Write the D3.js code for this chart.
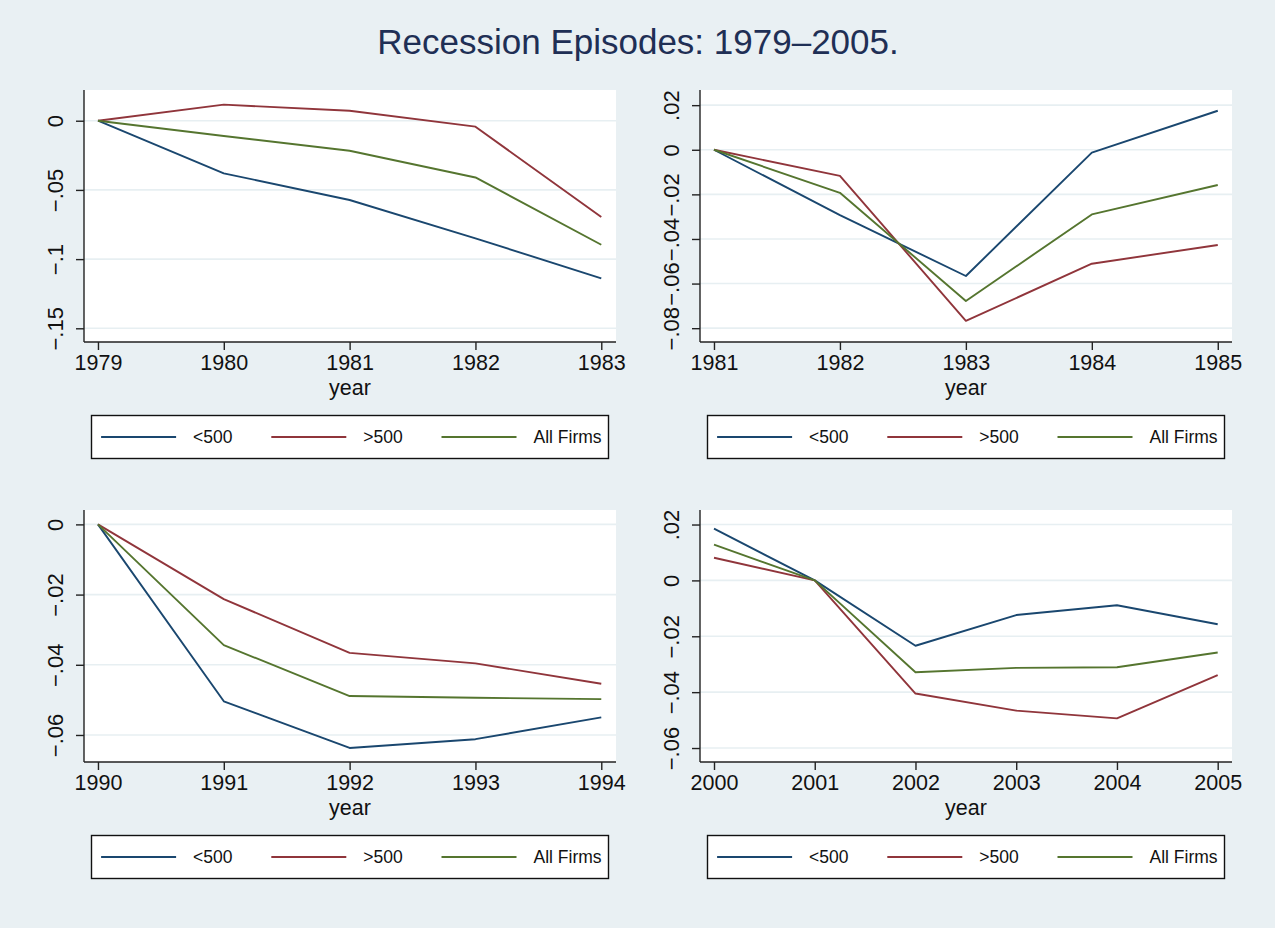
<!DOCTYPE html>
<html>
<head>
<meta charset="utf-8">
<script src="https://cdn.jsdelivr.net/npm/d3@7"></script>
<style>
  html, body { margin: 0; padding: 0; background: #e9f0f3; }
  svg { display: block; font-family: "Liberation Sans", Arial, Helvetica, sans-serif; }
</style>
</head>
<body>
<svg id="chart" width="1275" height="928"></svg>
<script>
// Employment change by firm size across four recession episodes
const seriesNames = ["<500", ">500", "All Firms"];
const seriesColors = ["#1a476f", "#90353b", "#55752f"];

// 1979-1983
const years1 = [1979, 1980, 1981, 1982, 1983];
const small1 = [0, -0.038, -0.0573, -0.085, -0.1139];
const large1 = [0, 0.0116, 0.0072, -0.0043, -0.0696];
const all1   = [0, -0.011, -0.0217, -0.041, -0.0896];
const yTicks1 = [0, -0.05, -0.1, -0.15];

// 1981-1985
const years2 = [1981, 1982, 1983, 1984, 1985];
const small2 = [0, -0.0293, -0.0566, -0.0013, 0.0175];
const large2 = [0, -0.0117, -0.0767, -0.0511, -0.0427];
const all2   = [0, -0.0193, -0.0678, -0.029, -0.0158];
const yTicks2 = [-0.08, -0.06, -0.04, -0.02, 0, 0.02];

// 1990-1994
const years3 = [1990, 1991, 1992, 1993, 1994];
const small3 = [0, -0.0504, -0.0637, -0.0612, -0.055];
const large3 = [0, -0.0213, -0.0366, -0.0396, -0.0454];
const all3   = [0, -0.0344, -0.0489, -0.0494, -0.0498];
const yTicks3 = [0, -0.02, -0.04, -0.06];

// 2000-2005
const years4 = [2000, 2001, 2002, 2003, 2004, 2005];
const small4 = [0.0185, 0, -0.0234, -0.0124, -0.0089, -0.0157];
const large4 = [0.0081, 0, -0.0405, -0.0466, -0.0494, -0.0339];
const all4   = [0.0128, 0, -0.0329, -0.0313, -0.0311, -0.0258];
const yTicks4 = [-0.06, -0.04, -0.02, 0, 0.02];

const titleText = "Recession Episodes: 1979\u20132005.";
const xTitle = "year";

const panels = [
  { years: years1, series: [small1, large1, all1], yTicks: yTicks1,
    x0: 84, y0: 90, xDom: [1978.889, 1983.117], yDom: [-0.1599, 0.0222] },
  { years: years2, series: [small2, large2, all2], yTicks: yTicks2,
    x0: 700, y0: 90, xDom: [1980.889, 1985.113], yDom: [-0.0862, 0.0268] },
  { years: years3, series: [small3, large3, all3], yTicks: yTicks3,
    x0: 84, y0: 510, xDom: [1989.889, 1994.117], yDom: [-0.0677, 0.0041] },
  { years: years4, series: [small4, large4, all4], yTicks: yTicks4,
    x0: 700, y0: 510, xDom: [1999.861, 2005.142], yDom: [-0.065, 0.0252] }
];

const plotW = 532, plotH = 252;
const svg = d3.select("#chart");

svg.append("rect").attr("width", 1275).attr("height", 928).attr("fill", "#e9f0f3");

svg.append("text")
  .attr("x", 638).attr("y", 54)
  .attr("text-anchor", "middle")
  .attr("font-size", 35)
  .attr("fill", "#1f2f55")
  .text(titleText);

// Stata-style number labels: no leading zero, true minus sign
const fmt = d => d === 0 ? "0" : (d < 0 ? "\u2212" : "") + String(Math.abs(d)).replace(/^0/, "");

panels.forEach(p => {
  const g = svg.append("g").attr("transform", `translate(${p.x0},${p.y0})`);
  const x = d3.scaleLinear().domain(p.xDom).range([0, plotW]);
  const y = d3.scaleLinear().domain(p.yDom).range([plotH, 0]);

  g.append("rect").attr("width", plotW).attr("height", plotH).attr("fill", "#ffffff");

  // horizontal gridlines
  g.selectAll("line.grid").data(p.yTicks).join("line")
    .attr("class", "grid")
    .attr("x1", 0).attr("x2", plotW)
    .attr("y1", d => y(d)).attr("y2", d => y(d))
    .attr("stroke", "#e7eff2").attr("stroke-width", 1.6);

  // series lines
  const line = d3.line().x((d, i) => x(p.years[i])).y(d => y(d));
  p.series.forEach((s, k) => {
    g.append("path").datum(s)
      .attr("d", line)
      .attr("fill", "none")
      .attr("stroke", seriesColors[k])
      .attr("stroke-width", 1.9)
      .attr("stroke-linejoin", "round");
  });

  // y axis
  const yAxis = d3.axisLeft(y).tickValues(p.yTicks).tickFormat(fmt).tickSize(8).tickPadding(4);
  const ya = g.append("g").call(yAxis);
  ya.select(".domain").attr("d", `M0,0V${plotH}`).attr("stroke", "#222").attr("stroke-width", 1.4);
  ya.selectAll(".tick line").attr("stroke", "#222").attr("stroke-width", 1.4);
  ya.selectAll(".tick text")
    .attr("font-size", 22).attr("fill", "#111")
    .attr("font-family", "Liberation Sans, Arial, sans-serif")
    .attr("x", null).attr("dy", null)
    .attr("text-anchor", "middle")
    .attr("transform", "translate(-21,0) rotate(-90)");

  // x axis
  const xAxis = d3.axisBottom(x).tickValues(p.years).tickFormat(d3.format("d")).tickSize(8).tickPadding(5);
  const xa = g.append("g").attr("transform", `translate(0,${plotH})`).call(xAxis);
  xa.select(".domain").attr("d", `M0,0H${plotW}`).attr("stroke", "#222").attr("stroke-width", 1.4);
  xa.selectAll(".tick line").attr("stroke", "#222").attr("stroke-width", 1.4);
  xa.selectAll(".tick text")
    .attr("font-size", 21.5).attr("fill", "#111")
    .attr("font-family", "Liberation Sans, Arial, sans-serif");

  g.append("text")
    .attr("x", plotW / 2).attr("y", plotH + 53)
    .attr("text-anchor", "middle")
    .attr("font-size", 21.5).attr("fill", "#111")
    .text(xTitle);

  // legend
  const lg = g.append("g").attr("transform", `translate(${plotW / 2 - 258.5},${plotH + 73.5})`);
  lg.append("rect").attr("width", 517).attr("height", 43)
    .attr("fill", "#ffffff").attr("stroke", "#111").attr("stroke-width", 1.4);
  seriesNames.forEach((name, k) => {
    const cx = 9.6 + k * 170.2;
    lg.append("line")
      .attr("x1", cx).attr("x2", cx + 75)
      .attr("y1", 21.5).attr("y2", 21.5)
      .attr("stroke", seriesColors[k]).attr("stroke-width", 2);
    lg.append("text")
      .attr("x", cx + 92).attr("y", 27.5)
      .attr("font-size", 17.5).attr("fill", "#111")
      .text(name);
  });
});
</script>
</body>
</html>
